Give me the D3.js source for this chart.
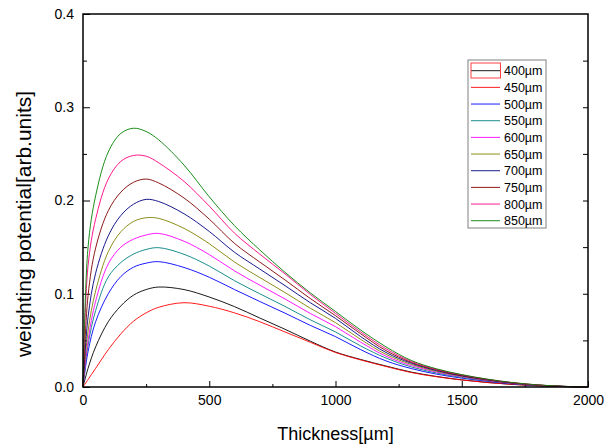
<!DOCTYPE html>
<html>
<head>
<meta charset="utf-8">
<title>weighting potential</title>
<script src="https://cdn.jsdelivr.net/npm/d3@7"></script>
<style>
body { margin:0; background:#fff; }
text { font-family:"Liberation Sans", Arial, sans-serif; }
</style>
</head>
<body>
<svg id="chart" width="614" height="445"></svg>
<script>
//---data: thickness (um) and potential per detector---
var thickness = [0,20,50,100,150,200,250,300,400,500,600,700,800,900,1000,1100,1200,1300,1400,1500,1600,1700,1800,1900,2000]

var labels = ["400\u00B5m","450\u00B5m","500\u00B5m","550\u00B5m","600\u00B5m","650\u00B5m","700\u00B5m","750\u00B5m","800\u00B5m","850\u00B5m"]

var w400 = [0,0.020,0.043,0.070,0.087,0.0985,0.1045,0.1072,0.1045,0.0965,0.0862,0.074,0.0619,0.0492,0.0375,0.0295,0.0225,0.016,0.0113,0.0077,0.0049,0.0028,0.0014,0.0005,0]
var w450 = [0,0.008,0.020,0.040,0.057,0.0705,0.0795,0.0855,0.0904,0.0866,0.0795,0.070,0.059,0.048,0.037,0.029,0.022,0.0155,0.011,0.0075,0.0048,0.0028,0.0014,0.0005,0]
var w500 = [0,0.038,0.070,0.100,0.1185,0.1285,0.1328,0.1344,0.1282,0.1177,0.1045,0.0917,0.0792,0.0661,0.054,0.040,0.028,0.0198,0.0138,0.0095,0.0061,0.0034,0.0016,0.0005,0]
var w550 = [0,0.045,0.082,0.118,0.1335,0.1425,0.1475,0.1494,0.1423,0.1297,0.114,0.100,0.0864,0.0721,0.059,0.044,0.031,0.0215,0.015,0.0103,0.0066,0.0037,0.0017,0.0006,0]
var w600 = [0,0.050,0.092,0.132,0.150,0.1585,0.163,0.1647,0.1563,0.142,0.1245,0.1092,0.0944,0.0789,0.0647,0.048,0.033,0.023,0.016,0.011,0.007,0.0039,0.0018,0.0006,0]
var w650 = [0,0.060,0.103,0.145,0.1665,0.1775,0.1815,0.1808,0.1701,0.1537,0.134,0.1174,0.1013,0.0845,0.069,0.051,0.035,0.0243,0.0168,0.0115,0.0074,0.0041,0.0019,0.0006,0]
var w700 = [0,0.075,0.122,0.162,0.184,0.196,0.2012,0.1989,0.1858,0.1668,0.1445,0.1265,0.1087,0.0904,0.0736,0.054,0.037,0.0255,0.0176,0.012,0.0077,0.0043,0.002,0.0007,0]
var w750 = [0,0.098,0.149,0.189,0.209,0.2195,0.223,0.2188,0.2027,0.180,0.154,0.134,0.1148,0.0949,0.0765,0.057,0.039,0.0265,0.0183,0.0125,0.008,0.0045,0.0021,0.0007,0]
var w800 = [0,0.130,0.180,0.223,0.242,0.2483,0.2475,0.2404,0.2205,0.194,0.165,0.1425,0.1213,0.0993,0.079,0.059,0.041,0.0275,0.019,0.013,0.0083,0.0047,0.0022,0.0007,0]
var w850 = [0,0.150,0.205,0.252,0.272,0.2775,0.274,0.265,0.238,0.204,0.173,0.147,0.123,0.101,0.081,0.061,0.043,0.0285,0.0195,0.0133,0.0085,0.0048,0.0023,0.0008,0]

var xTicks = [0,500,1000,1500,2000]
var yTicks = [0,0.1,0.2,0.3,0.4]

var series = [w400,w450,w500,w550,w600,w650,w700,w750,w800,w850]
var colors = ["#000000","#ff0000","#0000ff","#008080","#ff00ff","#808000","#000080","#800000","#ff0080","#008000"]

//---layout---
var plotL = 83, plotR = 588, plotT = 14, plotB = 387

var svg = d3.select("#chart")

var xScale = d3.scaleLinear()
    .domain([0, 2000])
    .range([plotL, plotR])

var yScale = d3.scaleLinear()
    .domain([0, 0.4])
    .range([plotB, plotT])

// minor ticks
svg.append("g")
    .attr("transform", "translate(0," + plotB + ")")
    .call(d3.axisBottom(xScale).tickValues(d3.range(250, 2000, 500)).tickSizeInner(-3).tickSizeOuter(0).tickFormat(""))
svg.append("g")
    .attr("transform", "translate(" + plotL + ",0)")
    .call(d3.axisLeft(yScale).tickValues([0.05,0.15,0.25,0.35]).tickSizeInner(-4).tickSizeOuter(0).tickFormat(""))
svg.append("g")
    .attr("transform", "translate(" + plotR + ",0)")
    .call(d3.axisRight(yScale).tickValues([0.05,0.1,0.15,0.2,0.25,0.3,0.35]).tickSizeInner(-5).tickSizeOuter(0).tickFormat(""))

// major ticks + labels
svg.append("g")
    .attr("transform", "translate(0," + plotB + ")")
    .call(d3.axisBottom(xScale).tickValues(xTicks).tickSizeInner(-6).tickSizeOuter(0).tickPadding(8).tickFormat(d3.format("d")))

svg.append("g")
    .attr("transform", "translate(" + plotL + ",0)")
    .call(d3.axisLeft(yScale).tickValues(yTicks).tickSizeInner(-7).tickSizeOuter(0).tickPadding(9).tickFormat(d3.format(".1f")))

svg.selectAll(".domain").remove()
svg.selectAll(".tick line").attr("stroke", "#000").attr("stroke-width", 1)
svg.selectAll(".tick text")
    .attr("font-family", "Liberation Sans, Arial, sans-serif")
    .attr("font-size", "14px")
    .attr("fill", "#000")

//--curves--
var line = d3.line()
    .x(function(d, i) { return xScale(thickness[i]) })
    .y(function(d) { return yScale(d) })
    .curve(d3.curveCatmullRom.alpha(0.5))

series.forEach(function(s, k) {
    svg.append("path")
        .datum(s)
        .attr("fill", "none")
        .attr("stroke", colors[k])
        .attr("stroke-width", 0.9)
        .attr("d", line)
})

// frame
svg.append("rect")
    .attr("x", plotL)
    .attr("y", plotT)
    .attr("width", plotR - plotL)
    .attr("height", plotB - plotT)
    .attr("fill", "none")
    .attr("stroke", "#000")
    .attr("stroke-width", 1.5)

// axis titles
svg.append("text")
    .attr("x", (plotL + plotR) / 2)
    .attr("y", 440)
    .attr("text-anchor", "middle")
    .attr("font-size", "18px")
    .text("Thickness[\u00B5m]")

svg.append("text")
    .attr("transform", "translate(31,224)rotate(-90)")
    .attr("text-anchor", "middle")
    .attr("font-size", "21px")
    .text("weighting potential[arb.units]")

//--legend--
var legend = svg.append("g")
legend.append("rect")
    .attr("x", 468)
    .attr("y", 60)
    .attr("width", 78)
    .attr("height", 168)
    .attr("fill", "#fff")
    .attr("stroke", "#808080")
    .attr("stroke-width", 1)

labels.forEach(function(name, k) {
    var ly = 70.7 + k * 16.67
    legend.append("line")
        .attr("x1", 471)
        .attr("x2", 500)
        .attr("y1", ly)
        .attr("y2", ly)
        .attr("stroke", colors[k])
        .attr("stroke-width", 0.9)
    legend.append("text")
        .attr("x", 504)
        .attr("y", ly + 4.5)
        .attr("font-size", "12.5px")
        .text(name)
})

// selection box round the first entry
legend.append("rect")
    .attr("x", 471)
    .attr("y", 63)
    .attr("width", 29.5)
    .attr("height", 15)
    .attr("fill", "none")
    .attr("stroke", "#ff4040")
    .attr("stroke-width", 1)
</script>
</body>
</html>
